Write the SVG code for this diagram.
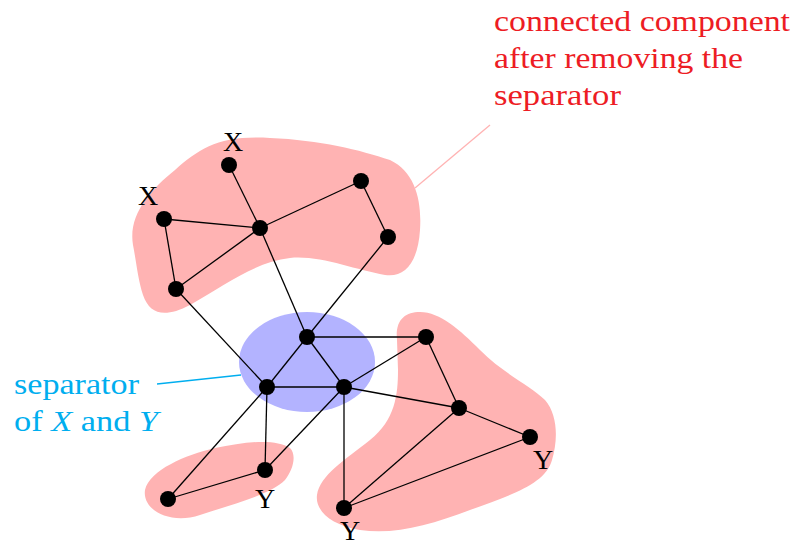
<svg xmlns="http://www.w3.org/2000/svg" width="795" height="545" viewBox="0 0 795 545">
<style>
.blob{fill:#ffb3b3;stroke:none}
.sep{fill:#b3b3ff;stroke:none}
.edge{stroke:#000;stroke-width:1.3;fill:none}
.node{fill:#000}
.lbl{font-family:"Liberation Serif",serif;font-size:28px;fill:#000}
.red{font-family:"Liberation Serif",serif;font-size:29px;fill:#ed1c24}
.cyan{font-family:"Liberation Serif",serif;font-size:29px;fill:#00aeef}
</style>
<rect width="795" height="545" fill="#fff"/>
<g id="regions">
<path class="blob" d="M 133,245 C 128,215 150,190 175,170 C 200,148 220,135 270,138 C 320,140 360,150 390,160 C 415,172 422,200 420,230 C 418,262 405,278 385,275 C 355,270 320,255 290,258 C 255,262 225,285 190,305 C 165,318 150,315 143,295 C 138,280 136,260 133,245 Z"/>
<path class="blob" d="M 397,340 C 395,320 405,312 420,312 C 440,312 460,330 480,350 C 505,375 530,385 545,400 C 558,415 558,440 552,460 C 545,485 510,495 470,510 C 430,525 395,535 360,530 C 330,525 315,510 317,495 C 320,475 345,460 370,440 C 395,420 398,395 398,370 Z"/>
<path class="blob" d="M 145,490 C 150,470 185,455 215,448 C 245,442 275,438 290,448 C 297,455 293,470 285,480 C 270,495 230,505 200,515 C 170,525 142,510 145,490 Z"/>
<ellipse class="sep" cx="307" cy="362" rx="68" ry="50"/>
</g>
<g id="pointers">
<line x1="415" y1="188" x2="490" y2="125" stroke="#ffb3b3" stroke-width="1.3"/>
<line x1="157" y1="384" x2="241" y2="375" stroke="#00aeef" stroke-width="1.3"/>
</g>
<g id="connectors" class="edge">
<line x1="229" y1="165" x2="260" y2="228"/>
<line x1="164" y1="219" x2="260" y2="228"/>
<line x1="164" y1="219" x2="176" y2="289"/>
<line x1="176" y1="289" x2="260" y2="228"/>
<line x1="260" y1="228" x2="361" y2="181"/>
<line x1="361" y1="181" x2="388" y2="237"/>
<line x1="260" y1="228" x2="307" y2="337"/>
<line x1="388" y1="237" x2="307" y2="337"/>
<line x1="176" y1="289" x2="267" y2="387"/>
<line x1="307" y1="337" x2="267" y2="387"/>
<line x1="307" y1="337" x2="344" y2="387"/>
<line x1="267" y1="387" x2="344" y2="387"/>
<line x1="307" y1="337" x2="426" y2="337"/>
<line x1="344" y1="387" x2="426" y2="337"/>
<line x1="344" y1="387" x2="459" y2="408"/>
<line x1="426" y1="337" x2="459" y2="408"/>
<line x1="459" y1="408" x2="530" y2="437"/>
<line x1="459" y1="408" x2="344" y2="508"/>
<line x1="530" y1="437" x2="344" y2="508"/>
<line x1="344" y1="387" x2="344" y2="508"/>
<line x1="267" y1="387" x2="265" y2="470"/>
<line x1="344" y1="387" x2="265" y2="470"/>
<line x1="265" y1="470" x2="168" y2="499"/>
<line x1="267" y1="387" x2="168" y2="499"/>
</g>
<g id="n1"><circle class="node" cx="229" cy="165" r="8"/><text class="lbl" x="233" y="151" text-anchor="middle">X</text></g>
<g id="n2"><circle class="node" cx="164" cy="219" r="8"/><text class="lbl" x="148" y="205" text-anchor="middle">X</text></g>
<g id="n3"><circle class="node" cx="260" cy="228" r="8"/></g>
<g id="n4"><circle class="node" cx="361" cy="181" r="8"/></g>
<g id="n5"><circle class="node" cx="388" cy="237" r="8"/></g>
<g id="n6"><circle class="node" cx="176" cy="289" r="8"/></g>
<g id="s1"><circle class="node" cx="307" cy="337" r="8"/></g>
<g id="s2"><circle class="node" cx="267" cy="387" r="8"/></g>
<g id="s3"><circle class="node" cx="344" cy="387" r="8"/></g>
<g id="n7"><circle class="node" cx="426" cy="337" r="8"/></g>
<g id="n8"><circle class="node" cx="459" cy="408" r="8"/></g>
<g id="n9"><circle class="node" cx="530" cy="437" r="8"/><text class="lbl" x="543" y="469" text-anchor="middle">Y</text></g>
<g id="n10"><circle class="node" cx="344" cy="508" r="8"/><text class="lbl" x="350" y="540" text-anchor="middle">Y</text></g>
<g id="n11"><circle class="node" cx="265" cy="470" r="8"/><text class="lbl" x="265" y="508" text-anchor="middle">Y</text></g>
<g id="n12"><circle class="node" cx="168" cy="499" r="8"/></g>
<g id="label-component">
<text class="red" x="494" y="31" textLength="296" lengthAdjust="spacingAndGlyphs">connected component</text>
<text class="red" x="494" y="68" textLength="249" lengthAdjust="spacingAndGlyphs">after removing the</text>
<text class="red" x="494" y="105" textLength="127" lengthAdjust="spacingAndGlyphs">separator</text>
</g>
<g id="label-separator">
<text class="cyan" x="14" y="394" textLength="125" lengthAdjust="spacingAndGlyphs">separator</text>
<text class="cyan" x="14" y="431" textLength="144" lengthAdjust="spacingAndGlyphs">of <tspan font-style="italic">X</tspan> and <tspan font-style="italic">Y</tspan></text>
</g>
</svg>
